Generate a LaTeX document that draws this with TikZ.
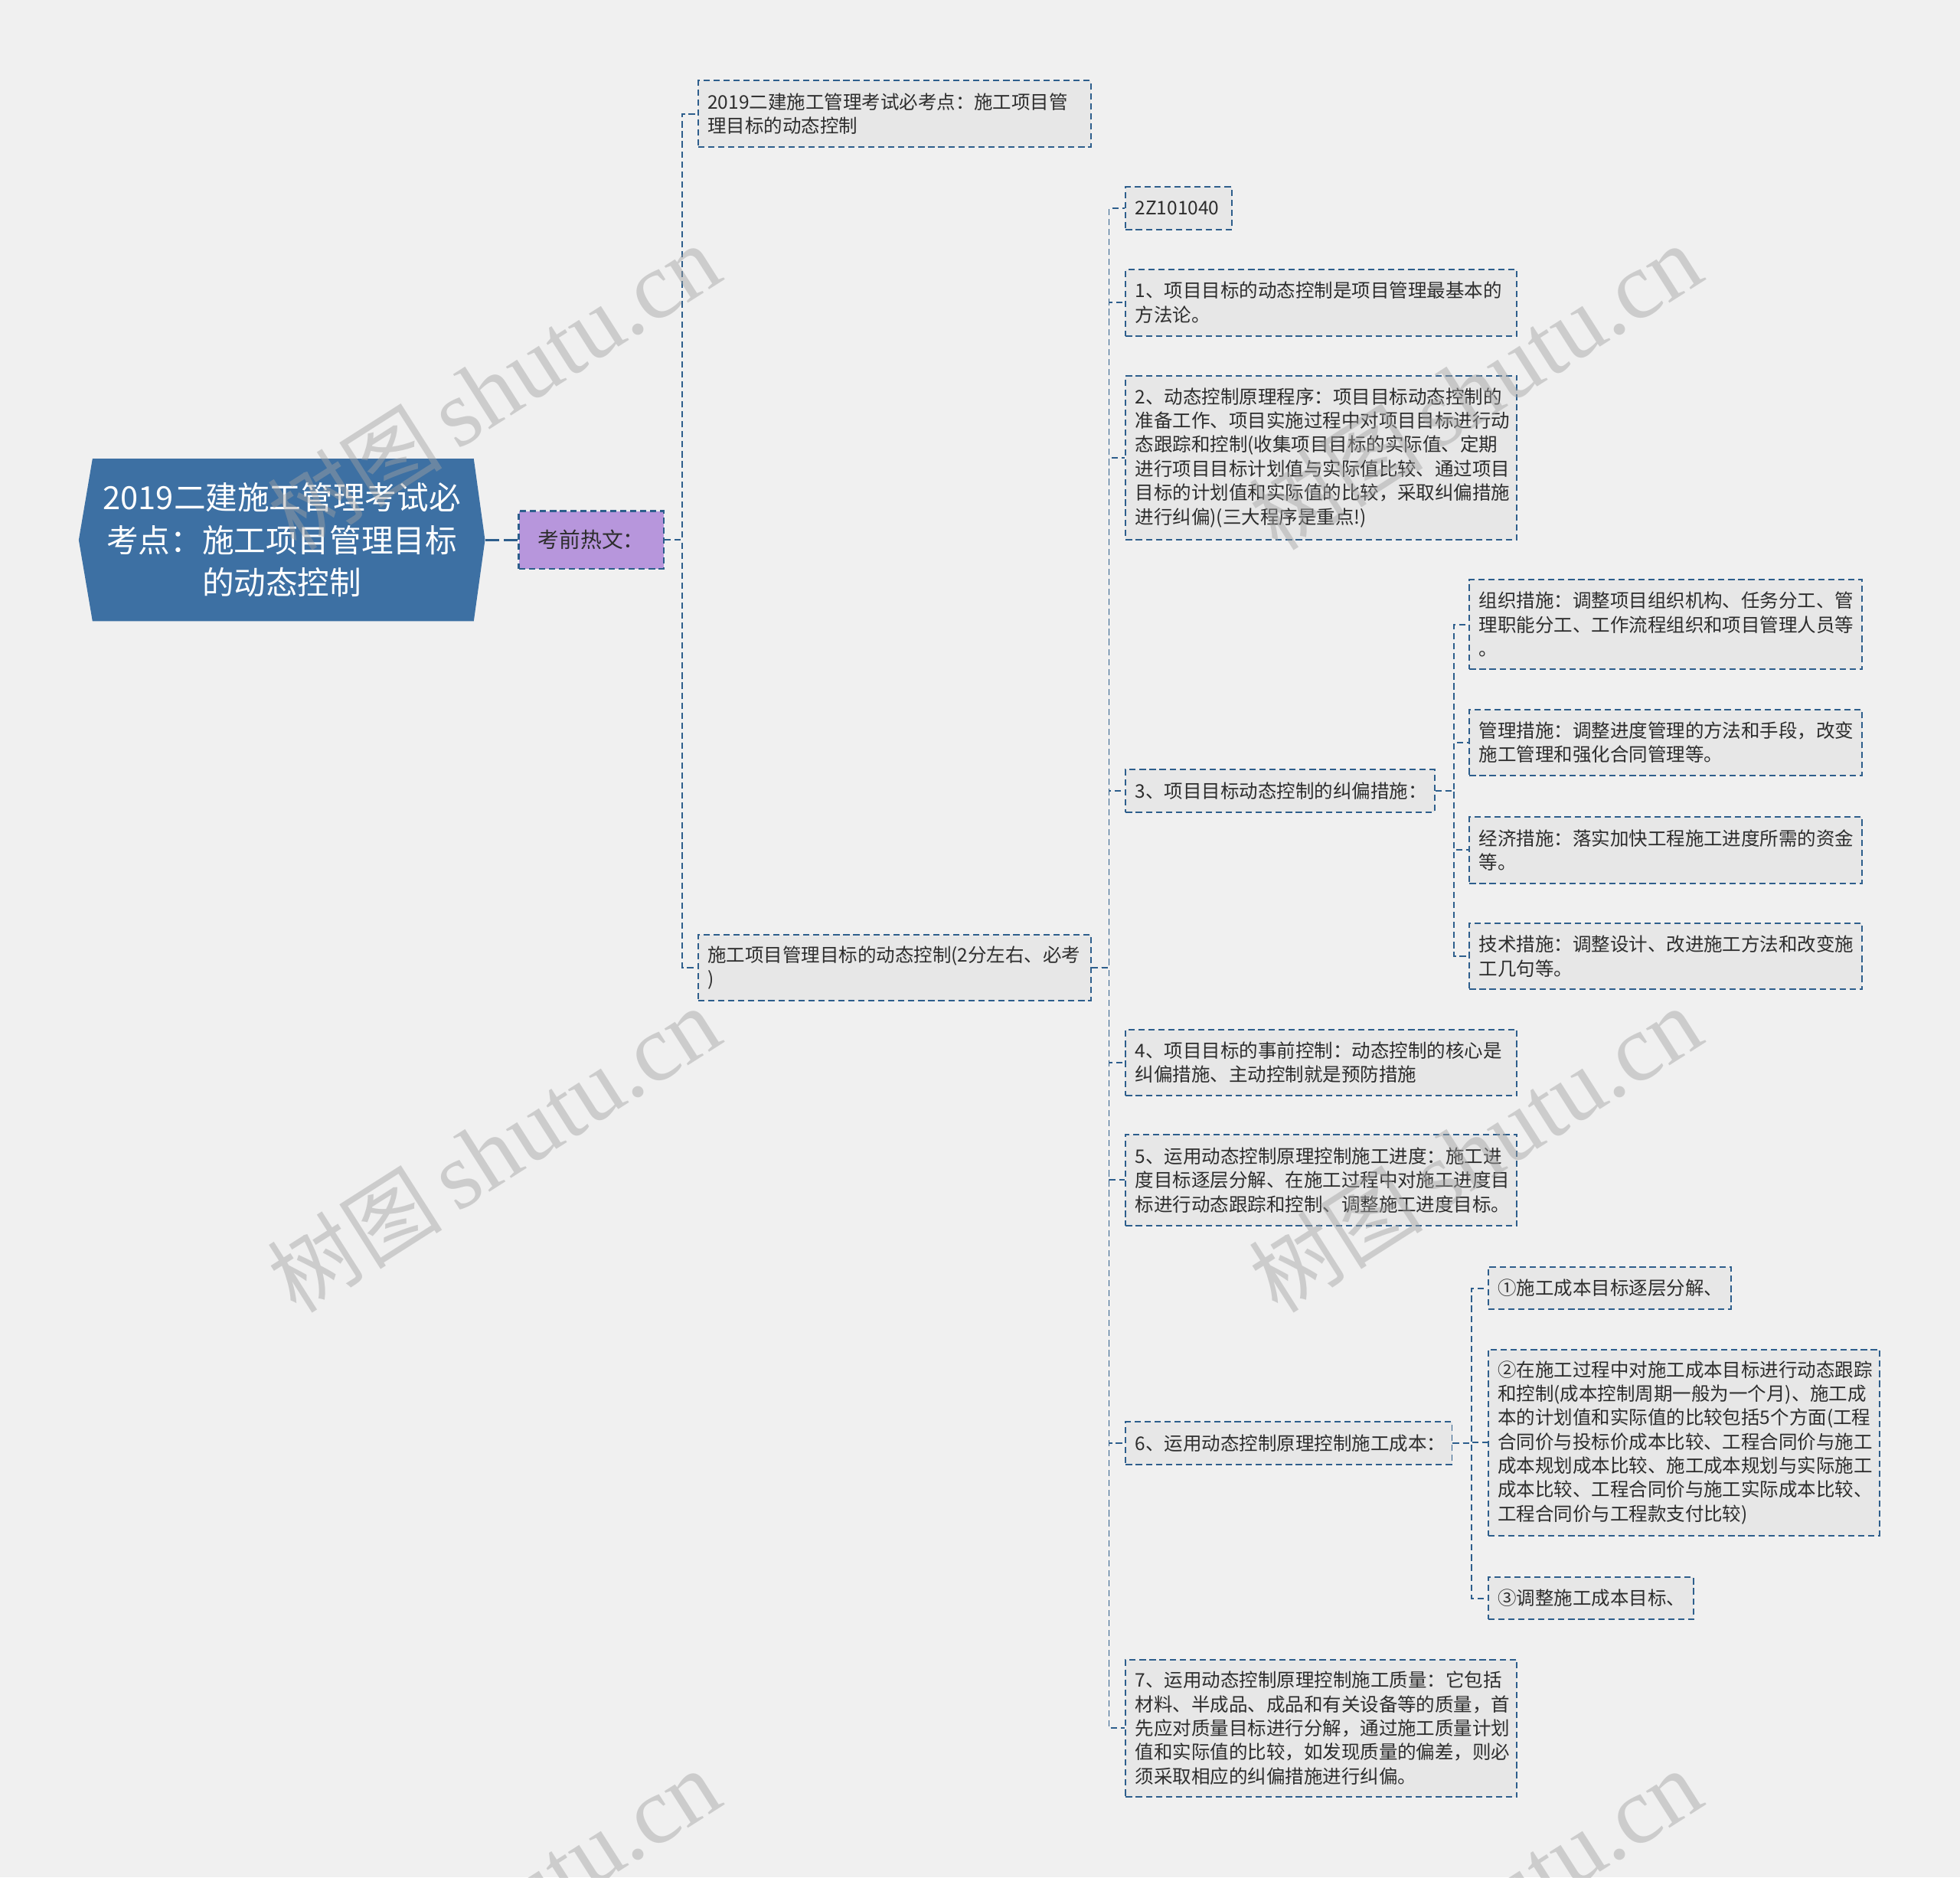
\documentclass[tikz,border=0pt]{standalone}
\usepackage{fontspec}
\setmainfont{Noto Sans CJK SC}
\newfontfamily\wmserif{Liberation Serif}
\definecolor{bgc}{RGB}{240,240,240}
\definecolor{rootc}{RGB}{61,112,163}
\definecolor{linec}{RGB}{45,94,140}
\definecolor{boxc}{RGB}{231,231,231}
\definecolor{hotc}{RGB}{183,150,220}
\definecolor{txtc}{RGB}{45,45,45}
\definecolor{wmc}{RGB}{162,162,162}
\tikzset{
  conn/.style={draw=linec, line width=1.2pt, dash pattern=on 5pt off 3pt},
  tbox/.style={draw=linec, line width=1.2pt, dash pattern=on 5pt off 3pt,
    fill=boxc, anchor=north west, inner xsep=7.5pt, inner ysep=0pt,
    align=left, text=txtc, font=\fontsize{15}{19.2}\selectfont},
  wmark/.style={text=wmc, opacity=0.45, rotate=32.5, inner sep=0pt}
}
\begin{document}
\begin{tikzpicture}[x=1pt,y=-1pt]
\useasboundingbox (0,0) rectangle (1568,1502);
\fill[bgc] (0,0) rectangle (1568,1502);

% root
\fill[rootc] (63,432) -- (74,367) -- (379,367) -- (388,432) -- (379,497) -- (74,497) -- cycle;
\node[text=white, align=center, font=\fontsize{25.5}{34}\selectfont,
  minimum width=325pt, minimum height=130pt, inner sep=0pt] (root) at (225.5,432)
  {2019二建施工管理考试必\\考点：施工项目管理目标\\的动态控制};

\node[draw=linec, line width=1.6pt, dash pattern=on 5pt off 3pt, fill=hotc,
  minimum width=116pt, minimum height=46pt, inner sep=0pt,
  font=\fontsize{17}{20}\selectfont, text=txtc] (hot) at (473,432) {考前热文：};

% level 2
\node[tbox, text width=299pt, minimum height=53pt] (A) at (558,64)
  {2019二建施工管理考试必考点：施工项目管\\理目标的动态控制};
\node[tbox, text width=299pt, minimum height=53pt] (B) at (558,747)
  {施工项目管理目标的动态控制(2分左右、必考\\)};

% level 3
\node[tbox, text width=70pt, minimum height=34pt] (c1) at (900,149) {2Z101040};
\node[tbox, text width=298pt, minimum height=53pt] (c2) at (900,215)
  {1、项目目标的动态控制是项目管理最基本的\\方法论。};
\node[tbox, text width=298pt, minimum height=131pt] (c3) at (900,300)
  {2、动态控制原理程序：项目目标动态控制的\\准备工作、项目实施过程中对项目目标进行动\\态跟踪和控制(收集项目目标的实际值、定期\\进行项目目标计划值与实际值比较、通过项目\\目标的计划值和实际值的比较，采取纠偏措施\\进行纠偏)(三大程序是重点!)};
\node[tbox, text width=232pt, minimum height=34pt] (c4) at (900,615)
  {3、项目目标动态控制的纠偏措施：};
\node[tbox, text width=298pt, minimum height=53pt] (c5) at (900,823)
  {4、项目目标的事前控制：动态控制的核心是\\纠偏措施、主动控制就是预防措施};
\node[tbox, text width=298pt, minimum height=73pt] (c6) at (900,907)
  {5、运用动态控制原理控制施工进度：施工进\\度目标逐层分解、在施工过程中对施工进度目\\标进行动态跟踪和控制、调整施工进度目标。};
\node[tbox, text width=246pt, minimum height=34pt] (c7) at (900,1137)
  {6、运用动态控制原理控制施工成本：};
\node[tbox, text width=298pt, minimum height=110pt] (c8) at (900,1327)
  {7、运用动态控制原理控制施工质量：它包括\\材料、半成品、成品和有关设备等的质量，首\\先应对质量目标进行分解，通过施工质量计划\\值和实际值的比较，如发现质量的偏差，则必\\须采取相应的纠偏措施进行纠偏。};

% level 4 (measures)
\node[tbox, text width=299pt, minimum height=72pt] (m1) at (1175,463)
  {组织措施：调整项目组织机构、任务分工、管\\理职能分工、工作流程组织和项目管理人员等\\。};
\node[tbox, text width=299pt, minimum height=53pt] (m2) at (1175,567)
  {管理措施：调整进度管理的方法和手段，改变\\施工管理和强化合同管理等。};
\node[tbox, text width=299pt, minimum height=53pt] (m3) at (1175,653)
  {经济措施：落实加快工程施工进度所需的资金\\等。};
\node[tbox, text width=299pt, minimum height=53pt] (m4) at (1175,738)
  {技术措施：调整设计、改进施工方法和改变施\\工几句等。};

% level 4 (cost)
\node[tbox, text width=179pt, minimum height=34pt] (k1) at (1190,1013)
  {①施工成本目标逐层分解、};
\node[tbox, text width=298pt, minimum height=149pt] (k2) at (1190,1079)
  {②在施工过程中对施工成本目标进行动态跟踪\\和控制(成本控制周期一般为一个月)、施工成\\本的计划值和实际值的比较包括5个方面(工程\\合同价与投标价成本比较、工程合同价与施工\\成本规划成本比较、施工成本规划与实际施工\\成本比较、工程合同价与施工实际成本比较、\\工程合同价与工程款支付比较)};
\node[tbox, text width=149pt, minimum height=34pt] (k3) at (1190,1261)
  {③调整施工成本目标、};

% connectors
\draw[conn, line width=2.2pt, dash pattern=on 11pt off 4pt] (root.east) -- (hot.west);
\foreach \n in {A,B} \draw[conn] (hot.east) -- ++(14,0) |- (\n.west);
\foreach \n in {c1,c2,c3,c4,c5,c6,c7,c8} \draw[conn] (B.east) -- ++(14,0) |- (\n.west);
\foreach \n in {m1,m2,m3,m4} \draw[conn] (c4.east) -- ++(15,0) |- (\n.west);
\foreach \n in {k1,k2,k3} \draw[conn] (c7.east) -- ++(15,0) |- (\n.west);

% watermarks
\begin{scope}
\clip (0,0) rectangle (1568,1502);
\foreach \x/\y [count=\i] in {395/310, 1180/310, 395/920, 1180/920, 395/1530, 1180/1530}
  \node[wmark] (wm\i) at (\x,\y) {{\fontsize{70}{70}\selectfont 树图}\hspace{12pt}{\wmserif\fontsize{76}{76}\selectfont shutu.cn}};
\end{scope}
\end{tikzpicture}
\end{document}
